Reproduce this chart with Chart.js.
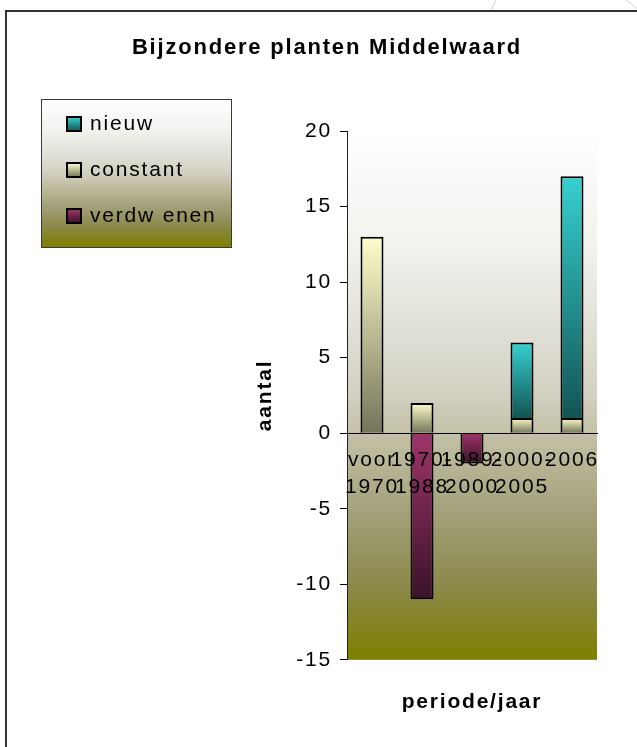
<!DOCTYPE html>
<html>
<head>
<meta charset="utf-8">
<title>Bijzondere planten Middelwaard</title>
<script src="https://cdn.jsdelivr.net/npm/chart.js@4/dist/chart.umd.min.js"></script>
<style>
  html, body { margin: 0; padding: 0; background: #ffffff; }
  #wrap { width: 637px; height: 747px; }
</style>
</head>
<body>
<div id="wrap"><canvas id="chart" width="637" height="747"></canvas></div>
<script>
// Periods (category axis) and counts per group
const categories = [['voor', '1970'], ['1970-', '1988'], ['1989-', '2000'], ['2000-', '2005'], '2006'];
const constant = [13, 2, 0, 1, 1];
const nieuw = [0, 0, 0, 5, 16];
const verdwenen = [0, -11, -2, 0, 0];
const yTicks = [-15, -10, -5, 0, 5, 10, 15, 20];

const FONT = "'Liberation Sans', Arial, sans-serif";
const SPACING = '1.8px';

// top / bottom colours of each segment's vertical shading
const shades = {
  nieuw: ['#36d0d0', '#135454'],
  constant: ['#ffffcc', '#74745a'],
  verdwenen: ['#9e3569', '#3a1229']
};

// olive background shading used for the plot area and the legend box
const bgStops = [
  [0.00, '#ffffff'], [0.22, '#f1f1ed'], [0.36, '#e2e2da'], [0.50, '#d2d0c0'],
  [0.58, '#c3bfa4'], [0.72, '#a3a17a'], [0.86, '#8b894a'], [1.00, '#7f7f00']
];

function bgGradient(ctx, top, bottom) {
  const g = ctx.createLinearGradient(0, top, 0, bottom);
  bgStops.forEach(([p, c]) => g.addColorStop(p, c));
  return g;
}

// vertical gradient spanning the segment's own extent on the value scale
function segmentFill(colors) {
  return (c) => {
    if (c.type !== 'data') return colors[0];
    const chart = c.chart;
    const y = chart.scales && chart.scales.y;
    if (!y || !chart.chartArea) return colors[0];
    const i = c.dataIndex, d = c.datasetIndex, v = c.raw;
    if (!v) return colors[0];
    let start = 0;
    chart.data.datasets.forEach((ds, k) => {
      const w = ds.data[i];
      if (k < d && w && Math.sign(w) === Math.sign(v)) start += w;
    });
    const end = start + v;
    const yTop = y.getPixelForValue(Math.max(start, end));
    const yBot = y.getPixelForValue(Math.min(start, end));
    if (!(yBot > yTop)) return colors[0];
    const g = chart.ctx.createLinearGradient(0, yTop, 0, yBot);
    g.addColorStop(0, colors[0]);
    g.addColorStop(1, colors[1]);
    return g;
  };
}

const spacingPlugin = {
  id: 'letterSpacing',
  beforeUpdate(chart) { chart.ctx.letterSpacing = SPACING; },
  beforeLayout(chart) { chart.ctx.letterSpacing = SPACING; },
  beforeDraw(chart) { chart.ctx.letterSpacing = SPACING; }
};

// white sheet, frame and shaded plot area
const backdropPlugin = {
  id: 'backdrop',
  beforeDraw(chart) {
    const ctx = chart.ctx;
    const a = chart.chartArea;
    ctx.save();
    ctx.fillStyle = '#ffffff';
    ctx.fillRect(0, 0, chart.width, chart.height);

    // faint outline of a neighbouring shape above the frame
    ctx.strokeStyle = '#cfcfcf';
    ctx.lineWidth = 1;
    ctx.beginPath();
    ctx.moveTo(491.5, 11); ctx.quadraticCurveTo(493, 5, 496, 0);
    ctx.moveTo(626, 0); ctx.quadraticCurveTo(632, 4, 637, 9);
    ctx.stroke();

    ctx.strokeStyle = '#333333';
    ctx.lineWidth = 2;
    ctx.beginPath();
    ctx.moveTo(6, chart.height);
    ctx.lineTo(6, 11);
    ctx.lineTo(chart.width, 11);
    ctx.stroke();

    ctx.fillStyle = bgGradient(ctx, a.top, a.bottom);
    ctx.fillRect(a.left, a.top, a.right - a.left, a.bottom - a.top);
    ctx.restore();
  }
};

// boxed legend at the upper left
const legendBox = { x: 41, y: 99, w: 190, h: 148, first: 25, step: 46, sq: 14, sqX: 67, textX: 90 };
const legendOrder = [1, 0, 2];
const legendPlugin = {
  id: 'boxLegend',
  afterDraw(chart) {
    const ctx = chart.ctx;
    const b = legendBox;
    ctx.save();
    ctx.fillStyle = bgGradient(ctx, b.y, b.y + b.h);
    ctx.fillRect(b.x, b.y, b.w, b.h);
    ctx.strokeStyle = '#3a3a3a';
    ctx.lineWidth = 1;
    ctx.strokeRect(b.x + 0.5, b.y + 0.5, b.w, b.h);

    ctx.font = '21px ' + FONT;
    ctx.letterSpacing = SPACING;
    ctx.textBaseline = 'middle';
    ctx.textAlign = 'left';
    legendOrder.forEach((di, n) => {
      const ds = chart.data.datasets[di];
      const cy = b.y + b.first + n * b.step;
      const top = cy - b.sq / 2;
      const g = ctx.createLinearGradient(0, top, 0, top + b.sq);
      g.addColorStop(0, ds.shade[0]);
      g.addColorStop(1, ds.shade[1]);
      ctx.fillStyle = g;
      ctx.fillRect(b.sqX, top, b.sq, b.sq);
      ctx.strokeStyle = '#000000';
      ctx.lineWidth = 2;
      ctx.strokeRect(b.sqX, top, b.sq, b.sq);
      ctx.fillStyle = '#000000';
      ctx.fillText(ds.label, b.textX, cy);
    });
    ctx.restore();
  }
};

function series(label, data, colors) {
  return {
    label: label,
    data: data,
    shade: colors,
    backgroundColor: segmentFill(colors),
    borderColor: '#000000',
    borderWidth: 2,
    categoryPercentage: 1,
    barPercentage: 0.46
  };
}

new Chart(document.getElementById('chart'), {
  type: 'bar',
  data: {
    labels: categories,
    datasets: [
      series('constant', constant, shades.constant),
      series('nieuw', nieuw, shades.nieuw),
      series('verdw enen', verdwenen, shades.verdwenen)
    ]
  },
  plugins: [spacingPlugin, backdropPlugin, legendPlugin],
  options: {
    responsive: false,
    animation: false,
    events: [],
    layout: { padding: { left: 57, right: 40, top: 0, bottom: 0 } },
    plugins: {
      legend: { display: false },
      tooltip: { enabled: false },
      title: {
        display: true,
        text: 'Bijzondere planten Middelwaard',
        color: '#000000',
        font: { family: FONT, size: 22, weight: 'bold' },
        padding: { top: 35, bottom: 69.6 }
      }
    },
    scales: {
      x: {
        stacked: true,
        position: { y: 0 },
        grid: { display: false, drawTicks: false },
        border: { display: true, color: '#000000', width: 1, z: 1 },
        ticks: {
          z: 1,
          color: '#000000',
          font: { family: FONT, size: 21, lineHeight: 1.3 },
          padding: 13,
          autoSkip: false,
          maxRotation: 0,
          minRotation: 0
        }
      },
      x2: {
        type: 'category',
        position: 'bottom',
        grid: { display: false, drawTicks: false },
        border: { display: false },
        ticks: { display: false },
        title: {
          display: true,
          text: 'periode/jaar',
          color: '#000000',
          font: { family: FONT, size: 21, weight: 'bold' },
          padding: { top: 30, bottom: 32 }
        }
      },
      y: {
        stacked: true,
        min: yTicks[0],
        max: yTicks[yTicks.length - 1],
        afterBuildTicks: (s) => { s.ticks = yTicks.map(v => ({ value: v })); },
        afterFit: (s) => { s.width = 290; },
        grid: { drawOnChartArea: false, drawTicks: true, tickLength: 7, tickColor: '#000000', tickWidth: 1 },
        border: { display: true, color: '#222222', width: 1 },
        ticks: {
          color: '#000000',
          font: { family: FONT, size: 21 },
          padding: 8,
          callback: (v) => String(v)
        },
        title: {
          display: true,
          text: 'aantal',
          color: '#000000',
          font: { family: FONT, size: 21, weight: 'bold' },
          padding: { top: 196, bottom: 0 }
        }
      }
    }
  }
});
</script>
</body>
</html>
